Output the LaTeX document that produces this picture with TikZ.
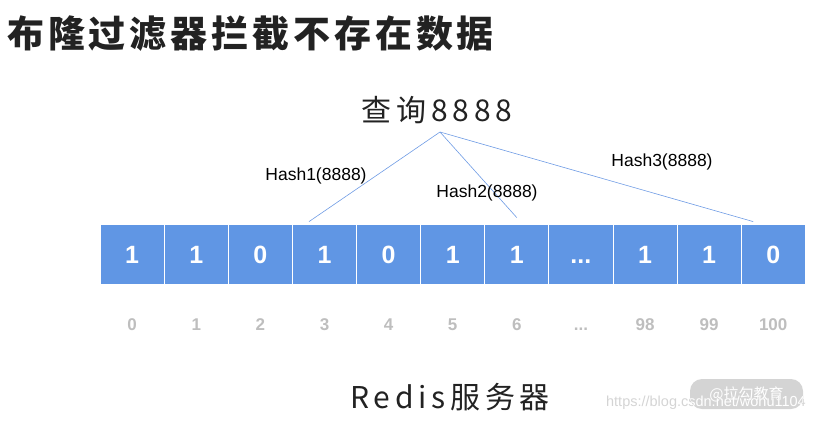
\documentclass[tikz,border=0pt]{standalone}
\usepackage{fontspec}
\usepackage{xcolor}
\usepackage{tikz}
\usetikzlibrary{positioning,calc}
\setmainfont{Liberation Sans}
\newfontfamily\titlefont[LetterSpace=10.5]{Noto Sans CJK SC}
\newfontfamily\labelfont[LetterSpace=16]{Noto Sans CJK SC}
\newfontfamily\markfont{Noto Sans CJK SC}
\definecolor{bitblue}{RGB}{96,150,228}
\definecolor{linkblue}{RGB}{110,155,228}
\definecolor{idxgray}{RGB}{190,190,190}
\definecolor{inkdark}{RGB}{34,34,34}
\definecolor{markgray}{RGB}{212,212,212}
\newcommand{\bitdots}{...}
\newcommand{\urltext}{https://blog.csdn.net/wohu1104}

\begin{document}
\begin{tikzpicture}[
    x=1pt, y=-1pt,
    cell/.style={rectangle, draw=white, line width=0.8pt, fill=bitblue, minimum width=64.1pt, minimum height=60pt, inner sep=0pt, text height=18pt, text depth=0pt, text=white, font=\fontsize{25}{25}\selectfont\bfseries},
    idx/.style={text=idxgray, inner sep=0pt, text height=12pt, text depth=0pt, font=\fontsize{17}{17}\selectfont\bfseries},
    hashline/.style={draw=linkblue, line width=0.6pt},
    hashlbl/.style={inner sep=0pt, font=\fontsize{17.5}{18}\selectfont},
    big/.style={inner sep=0pt, text=inkdark, font=\labelfont\fontsize{30}{30}\selectfont},
    urllbl/.style={inner sep=0pt, anchor=east, font=\fontsize{14.5}{15}\selectfont}
]
    \useasboundingbox (0,0) rectangle (815,421);

    \node [inner sep=0pt, anchor=west, text=inkdark, font=\titlefont\fontsize{37}{37}\selectfont\bfseries] (title) at (7,34) {布隆过滤器拦截不存在数据};
    \node [big] (query) at (437,110) {查询8888};
    \coordinate (apex) at (440,132);

    % bit array and positions
    \foreach \v/\n [count=\i from 0] in {1/0,1/1,0/2,1/3,0/4,1/5,1/6,\bitdots/\bitdots,1/98,1/99,0/100} {
        \node [cell] (c\i) at ({132.2+64.1*\i},254) {\v};
        \node [idx] (n\i) at ({132.2+64.1*\i},324) {\n};
    }

    \draw [hashline] (apex) -- ([xshift=-15.5pt,yshift=2pt]c3.north);
    \draw [hashline] (apex) -- ([yshift=6pt]c6.north);
    \draw [hashline] (apex) -- ([xshift=-20pt,yshift=2pt]c10.north);

    \node [hashlbl] (h1) at (316,176) {Hash1(8888)};
    \node [hashlbl] (h2) at (487,193) {Hash2(8888)};
    \node [hashlbl] (h3) at (662,162) {Hash3(8888)};

    \node [big] (server) at (450,397) {Redis服务器};

    % watermark
    \node [rectangle, rounded corners=12pt, fill=markgray, minimum width=113pt, minimum height=30pt, inner sep=0pt, text=white, font=\markfont\fontsize{15}{15}\selectfont] (mark) at (746.5,394) {@拉勾教育};
    \node [urllbl, text=markgray] (url) at (806,403) {\urltext};
    \begin{scope}
        \clip [rounded corners=12pt] (mark.south west) rectangle (mark.north east);
        \node [urllbl, text=white] (urlover) at (806,403) {\urltext};
    \end{scope}
\end{tikzpicture}
\end{document}
